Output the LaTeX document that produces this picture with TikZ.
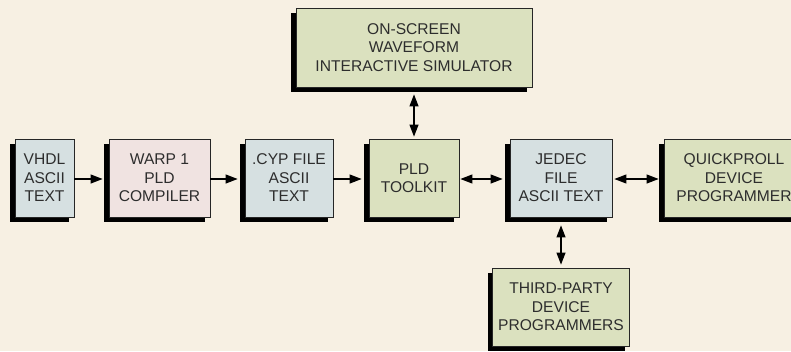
\documentclass[tikz,border=0pt]{standalone}
\usepackage{fontspec}
\setmainfont{Liberation Sans}
\usetikzlibrary{arrows.meta,shadows}
\definecolor{bgcol}{RGB}{247,240,227}
\definecolor{bluebox}{RGB}{214,224,225}
\definecolor{pinkbox}{RGB}{240,227,225}
\definecolor{greenbox}{RGB}{219,225,191}
\definecolor{txtcol}{RGB}{45,45,45}
\tikzset{
  blk/.style={draw=black!85, line width=0.8pt, rectangle, inner sep=0pt,
    align=center, text=txtcol, font=\fontsize{15.6pt}{18.5pt}\selectfont,
    drop shadow={shadow xshift=-5pt, shadow yshift=-5pt, fill=black, opacity=1}},
  blu/.style={blk, fill=bluebox},
  pnk/.style={blk, fill=pinkbox},
  grn/.style={blk, fill=greenbox},
  tip/.tip={Triangle[length=12pt,width=9pt]},
  conn/.style={line width=1.1pt, -tip},
  dconn/.style={line width=1.1pt, tip-tip}
}
\begin{document}
\begin{tikzpicture}[x=1pt,y=-1pt]
\fill[bgcol] (0,0) rectangle (791,351);
\useasboundingbox (0,0) rectangle (791,351);
\node[blu, minimum width=59pt, minimum height=78pt] (vhdl) at (44.5,178) {VHDL\\ASCII\\TEXT};
\node[pnk, minimum width=101pt, minimum height=78pt] (warp) at (159.5,178) {WARP 1\\PLD\\COMPILER};
\node[blu, minimum width=88pt, minimum height=78pt] (cyp) at (289,178) {.CYP FILE\\ASCII\\TEXT};
\node[grn, minimum width=90pt, minimum height=78pt] (pld) at (414,178) {PLD\\TOOLKIT};
\node[blu, minimum width=102pt, minimum height=78pt] (jedec) at (561,178) {JEDEC\\FILE\\ASCII TEXT};
\node[grn, minimum width=140pt, minimum height=78pt] (quick) at (734,178) {QUICKPROLL\\DEVICE\\PROGRAMMER};
\node[grn, minimum width=236pt, minimum height=79pt] (sim) at (414,47.5) {ON-SCREEN\\WAVEFORM\\INTERACTIVE SIMULATOR};
\node[grn, minimum width=137pt, minimum height=78pt] (third) at (561,307) {THIRD-PARTY\\DEVICE\\PROGRAMMERS};
\draw[conn, shorten >=6pt] ([yshift=-1pt]vhdl.east) -- ([yshift=-1pt]warp.west);
\draw[conn, shorten >=7pt] ([yshift=-1pt]warp.east) -- ([yshift=-1pt]cyp.west);
\draw[conn, shorten >=7pt] ([yshift=-1pt]cyp.east) -- ([yshift=-1pt]pld.west);
\draw[dconn, shorten <=1pt, shorten >=7pt] ([yshift=-1pt]pld.east) -- ([yshift=-1pt]jedec.west);
\draw[dconn, shorten <=2pt, shorten >=5pt] ([yshift=-1pt]jedec.east) -- ([yshift=-1pt]quick.west);
\draw[dconn, shorten <=7pt, shorten >=2pt] (sim.south) -- (pld.north);
\draw[dconn, shorten <=8pt, shorten >=3pt] (jedec.south) -- (third.north);
\end{tikzpicture}
\end{document}
